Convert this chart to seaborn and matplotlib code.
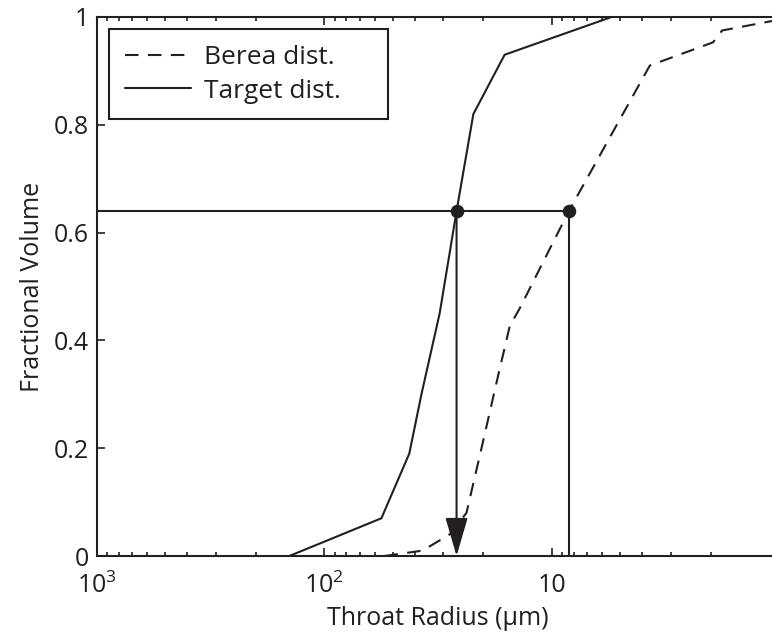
import matplotlib
matplotlib.use("Agg")
import matplotlib.pyplot as plt
import numpy as np
import pandas as pd
import seaborn as sns
from matplotlib.ticker import FixedLocator, FixedFormatter, LogLocator, NullFormatter

# ---- data ----
berea_radius = [54.4, 37.0, 28.1, 23.7, 20.1, 17.3, 15.3, 13.8, 8.4, 3.70, 1.95, 1.78, 1.0]
berea_frac = [0.0, 0.01, 0.04, 0.08, 0.21, 0.33, 0.426, 0.46, 0.64, 0.91, 0.953, 0.975, 0.995]

target_radius = [142.6, 56.1, 42.3, 37.4, 31.1, 26.2, 22.1, 16.1, 5.45]
target_frac = [0.0, 0.07, 0.19, 0.30, 0.45, 0.64, 0.82, 0.93, 1.0]

cross_radius = [26.2, 8.4]    # target / berea radius at the chosen fraction
cross_frac = [0.64, 0.64]

x_ticks = [1000, 100, 10, 1]
x_tick_labels = ["10$^3$", "10$^2$", "10", ""]
y_ticks = [0, 0.2, 0.4, 0.6, 0.8, 1.0]
y_tick_labels = ["0", "0.2", "0.4", "0.6", "0.8", "1"]

series_labels = ["Berea dist.", "Target dist."]

# ---- style ----
sns.set_theme(style="white")
plt.rcParams["font.family"] = ["Open Sans", "DejaVu Sans"]
plt.rcParams["mathtext.default"] = "regular"

INK = "#231f20"
FS = 18
LW = 1.5

fig = plt.figure(figsize=(7.72, 6.32), dpi=100)
ax = fig.add_axes([97 / 772, 1 - 556 / 632, (779 - 97) / 772, (556 - 17) / 632])

df_b = pd.DataFrame({"radius": berea_radius, "frac": berea_frac})
df_t = pd.DataFrame({"radius": target_radius, "frac": target_frac})

sns.lineplot(data=df_b, x="radius", y="frac", ax=ax, color=INK, lw=LW,
             linestyle=(0, (6.5, 4.5)), label=series_labels[0], sort=False, estimator=None)
sns.lineplot(data=df_t, x="radius", y="frac", ax=ax, color=INK, lw=LW,
             label=series_labels[1], sort=False, estimator=None)

ax.set_xscale("log")
ax.set_xlim(x_ticks[0], x_ticks[-1])
ax.set_ylim(y_ticks[0], y_ticks[-1])

# horizontal guide from left edge to the Berea crossing
level = cross_frac[0]
ax.plot([x_ticks[0], cross_radius[1]], [level, level], color=INK, lw=LW)
# vertical line from Berea crossing down
ax.plot([cross_radius[1], cross_radius[1]], [level, y_ticks[0]], color=INK, lw=LW)
# arrow from target crossing down
ax.annotate("", xy=(cross_radius[0], y_ticks[0]), xytext=(cross_radius[0], level),
            arrowprops=dict(arrowstyle="-|>,head_length=2.4,head_width=0.7",
                            mutation_scale=10, lw=LW, color=INK,
                            shrinkA=0, shrinkB=0))
sns.scatterplot(x=cross_radius, y=cross_frac, ax=ax, color=INK, s=95,
                edgecolor=INK, linewidth=0, zorder=5)

# ticks
ax.xaxis.set_major_locator(FixedLocator(x_ticks))
ax.xaxis.set_major_formatter(FixedFormatter(x_tick_labels))
ax.xaxis.set_minor_locator(LogLocator(base=10, subs=np.arange(2, 10)))
ax.xaxis.set_minor_formatter(NullFormatter())
ax.yaxis.set_major_locator(FixedLocator(y_ticks))
ax.yaxis.set_major_formatter(FixedFormatter(y_tick_labels))
ax.tick_params(which="both", direction="in", bottom=True, top=True, left=True,
               right=False, colors=INK, labelcolor=INK, width=1.2)
ax.tick_params(which="major", length=6, labelsize=FS)
ax.tick_params(axis="x", which="major", pad=12)
ax.tick_params(axis="y", which="major", pad=6)
ax.tick_params(which="minor", length=3)

for sp in ax.spines.values():
    sp.set_color(INK)
    sp.set_linewidth(LW)
    sp.set_visible(True)

ax.set_xlabel("Throat Radius (\u03bcm)", fontsize=FS, color=INK, labelpad=5)
ax.set_ylabel("Fractional Volume", fontsize=FS, color=INK, labelpad=6)

leg = ax.legend(loc="upper left", bbox_to_anchor=(12 / 682, 0, 279 / 682, 1 - 12 / 539),
                mode="expand", borderaxespad=0, fontsize=19, frameon=True,
                fancybox=False, edgecolor=INK, framealpha=1, borderpad=0.6,
                labelspacing=0.33, handlelength=2.5, handletextpad=0.5)
leg.get_frame().set_linewidth(LW)
for t in leg.get_texts():
    t.set_color(INK)

fig.savefig("out.png", dpi=100, facecolor="white")
